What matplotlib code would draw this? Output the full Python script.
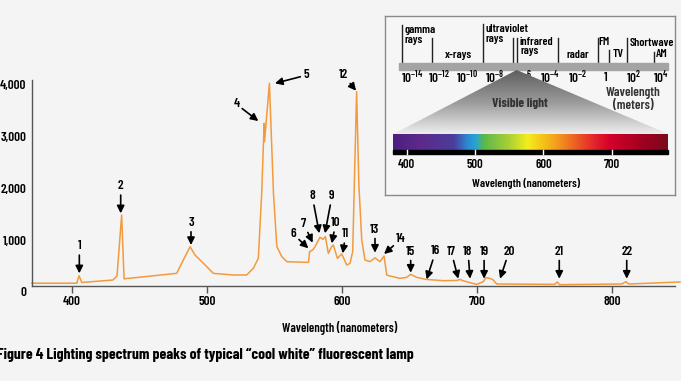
import numpy as np
import matplotlib
matplotlib.use("Agg")
import matplotlib.pyplot as plt
from matplotlib.colors import LinearSegmentedColormap
from matplotlib.patches import Polygon, Rectangle
from matplotlib.ticker import FuncFormatter

plt.rcParams['font.family'] = ['Barlow Condensed', 'Roboto Condensed', 'Archivo Narrow',
                               'Liberation Sans Narrow', 'DejaVu Sans']
plt.rcParams['font.weight'] = 'semibold'

# spectrum of a cool white fluorescent lamp
wl = [370.5, 403.8, 405.5, 407.5, 430.6, 433.6, 437.0, 438.8, 477.7, 481.4,
      487.6, 491.3, 497.5, 504.8, 519.6, 529.5, 534.4, 538.1, 540.6, 542.4,
      542.7, 546.3, 549.3, 551.8, 555.5, 559.2, 575.2, 576.0, 578.3, 580.0,
      583.7, 586.0, 587.7, 589.9, 592.3, 593.6, 596.6, 599.8, 603.5, 605.9,
      607.9, 610.8, 612.5, 614.6, 617.0, 620.7, 624.4, 628.1, 631.1, 633.1,
      635.5, 642.9, 647.8, 650.8, 655.3, 662.1, 674.9, 685.0, 687.3, 689.0,
      694.7, 699.6, 704.5, 706.5, 709.5, 711.9, 714.4, 757.4, 759.2, 761.0,
      807.0, 810.0, 812.0, 850.0]
power = [164, 164, 309, 178, 226, 305, 1483, 249, 355, 549,
         871, 709, 549, 355, 323, 323, 452, 645, 1903, 3257,
         2902, 4031, 1903, 871, 677, 581, 567, 774, 807, 871,
         1052, 1013, 1065, 742, 871, 903, 645, 729, 517, 548,
         774, 3869, 2056, 999, 613, 581, 655, 581, 690, 323,
         304, 258, 277, 336, 277, 238, 213, 217, 238, 217,
         174, 142, 194, 272, 258, 226, 149, 142, 188, 136,
         149, 194, 149, 188]

# numbered peaks: where each arrow points
peak_labels = [str(i) for i in range(1, 23)]
peak_wl = [405.7, 436.3, 488.3, 538.1, 550.4, 575.1, 578.3, 583.2, 587.4, 592.4,
           600.5, 610.4, 624.4, 631.1, 650.8, 662.6, 686.0, 694.7, 705.1, 716.9,
           760.7, 810.6]
peak_val = [355, 1516, 903, 3301, 4031, 840, 948, 1130, 1130, 936,
            742, 3888, 754, 729, 367, 239, 251, 251, 251, 251,
            251, 251]
# label offsets from the arrow tip, in pixels
label_off = [(0, 27), (0, 27), (0, 22), (-22, 17), (31, 8), (-15, 14), (-9, 19),
             (-7, 37), (7, 37), (4, 20), (3, 19), (-13, 16), (0, 23), (17, 15),
             (0, 21), (9, 28), (-7, 27), (-2, 27), (0, 27), (9, 27), (0, 27), (0, 27)]

xticks = [400, 500, 600, 700, 800]
yticks = [0, 1000, 2000, 3000, 4000]

# electromagnetic scale for the inset (log10 of wavelength in metres)
em_exp = [-14, -12, -10, -8, -6, -4, -2, 0, 2, 4]
em_bounds = [-14.72, -12.56, -8.88, -6.67, -6.38, -3.42, -0.59, 0.25, 1.55, 3.50]
em_bound_top = [45, 85, 42, 85, 85, 85, 85, 120, 85, 125]
vis_ticks = [400, 500, 600, 700]

bg = '#f4f4f4'
orange = '#f39a3c'

fig = plt.figure(figsize=(6.81, 3.81), dpi=100)
fig.patch.set_facecolor(bg)

ax = fig.add_axes([32 / 681, 1 - 291.7 / 381, 643 / 681, 211.7 / 381])
ax.set_facecolor(bg)
ax.plot(wl, power, color=orange, lw=1.1, clip_on=False, zorder=2)
ax.set_xlim(370.7, 846.3)
ax.set_ylim(0, 4095)
for s in ['top', 'right']:
    ax.spines[s].set_visible(False)
ax.spines['bottom'].set_position(('data', 110))
ax.spines['left'].set_bounds(110, 4095)
for s in ['bottom', 'left']:
    ax.spines[s].set_color('#555555')
    ax.spines[s].set_linewidth(1.0)
ax.set_xticks(xticks)
ax.set_yticks(yticks)
ax.yaxis.set_major_formatter(FuncFormatter(lambda v, p: f'{int(v):,}'))
ax.tick_params(axis='y', length=0, pad=4, labelsize=9.5)
ax.tick_params(axis='x', length=5, width=1, color='#555555', pad=2, labelsize=9.5)

for lab, x, y, off in zip(peak_labels, peak_wl, peak_val, label_off):
    ax.annotate(lab, xy=(x, y), xytext=off, textcoords='offset pixels',
                ha='center', va='center', fontsize=9.5,
                arrowprops=dict(arrowstyle='-|>', color='black', lw=1.2,
                                shrinkA=0, shrinkB=0, mutation_scale=11))

fig.text(340 / 681, 1 - 328 / 381, 'Wavelength (nanometers)', ha='center',
         va='center', fontsize=9)
fig.text(-3 / 681, 1 - 355 / 381,
         'Figure 4 Lighting spectrum peaks of typical \u201ccool white\u201d fluorescent lamp',
         ha='left', va='center', fontsize=11.2, fontweight='bold')

# ---- inset: the electromagnetic spectrum ----
ins = fig.add_axes([384.7 / 681, 1 - 195 / 381, 290.3 / 681, 179 / 381])
ins.set_facecolor('#f6f6f6')
for s in ins.spines.values():
    s.set_color('#8a8a8a')
    s.set_linewidth(1.0)
ins.set_xticks([])
ins.set_yticks([])


def em_x(e):
    return 95 + (e + 14) * 41.6


def vis_x(nm):
    return 80 + (nm - 400) * 2.05


ins.add_patch(Rectangle((58, 158), 807, 22, color='#a4a4a4', zorder=2))
for e, top in zip(em_bounds, em_bound_top):
    ins.plot([em_x(e), em_x(e)], [top, 160], color='#222222', lw=1, zorder=1)
for e in em_exp:
    lab = '1' if e == 0 else r'$\mathregular{10^{%d}}$' % e
    ins.text(em_x(e), 205, lab, ha='center', va='center', fontsize=9.5, zorder=2)

band_txt = [('gamma\nrays', 72, 45, 'left', 'top'), ('x-rays', 235, 135, 'center', 'center'),
            ('ultraviolet\nrays', 316, 42, 'left', 'top'), ('infrared\nrays', 420, 80, 'left', 'top'),
            ('radar', 593, 135, 'center', 'center'), ('FM', 655, 97, 'left', 'center'),
            ('TV', 698, 132, 'left', 'center'), ('Shortwave', 750, 100, 'left', 'center'),
            ('AM', 828, 133, 'left', 'center')]
for t, x, y, ha, va in band_txt:
    ins.text(x, y, t, ha=ha, va=va, fontsize=8.5, linespacing=0.95)

# grey triangle
tri = Polygon([[410, 180], [40, 372], [865, 372]], closed=True, facecolor='none',
              edgecolor='none', transform=ins.transData)
ins.add_patch(tri)
grey = LinearSegmentedColormap.from_list('g', ['#5e5e5e', '#9a9a9a', '#eeeeee'])
im = ins.imshow(np.linspace(0, 1, 256).reshape(-1, 1), extent=(40, 865, 372, 180),
                cmap=grey, aspect='auto', zorder=3)
im.set_clip_path(tri)
ins.text(420, 280, 'Visible light', ha='center', va='center', fontsize=9.5,
         fontweight='bold', color='#333333', zorder=4)
ins.text(760, 268, 'Wavelength\n(meters)', ha='center', va='center', fontsize=9.5,
         fontweight='semibold', color='#333333', linespacing=1.1, zorder=4)

# visible band
rainbow = LinearSegmentedColormap.from_list('rb', [
    (0.0, '#4e1f7f'), (0.10, '#5c2a8a'), (0.22, '#4b3d9e'), (0.27, '#2a8ad0'),
    (0.30, '#27a3d7'), (0.33, '#5cb849'), (0.42, '#a8cf38'), (0.49, '#f4ee1b'),
    (0.54, '#f7c51a'), (0.59, '#f4a21c'), (0.67, '#ec5a25'), (0.74, '#e2202b'),
    (0.79, '#d4002a'), (0.91, '#a00020'), (1.0, '#7a0a1a')])
ins.imshow(np.linspace(0, 1, 512).reshape(1, -1), extent=(40, 865, 420, 372),
           cmap=rainbow, aspect='auto', zorder=3)
ins.add_patch(Rectangle((40, 420), 825, 13, color='black', zorder=3))
for nm in vis_ticks:
    ins.plot([vis_x(nm), vis_x(nm)], [420, 433], color='white', lw=1, zorder=4)
    ins.text(vis_x(nm), 465, str(nm), ha='center', va='center', fontsize=9)
ins.text(438, 520, 'Wavelength (nanometers)', ha='center', va='center', fontsize=8.5)

ins.set_xlim(14, 885)
ins.set_ylim(555, 18)

fig.savefig('out.png', dpi=100, facecolor=bg)
